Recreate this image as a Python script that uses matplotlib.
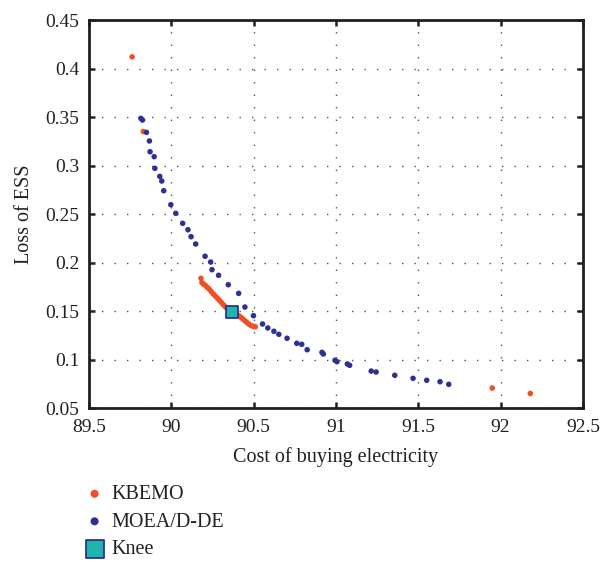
"""
Pareto fronts: KBEMO vs MOEA/D-DE, with the knee point
"""

import matplotlib
matplotlib.use('Agg')
import matplotlib.pyplot as plt

# KBEMO front (cost, loss)
kbemo_x = [89.762, 89.830, 90.180, 90.186, 90.194, 90.206, 90.218, 90.231,
           90.243, 90.255, 90.267, 90.279, 90.291, 90.303, 90.316, 90.328,
           90.340, 90.352, 90.364, 90.388, 90.400, 90.413, 90.425, 90.437,
           90.449, 90.461, 90.473, 90.485, 90.498, 90.510, 91.949, 92.180]
kbemo_y = [0.412, 0.335, 0.1837, 0.1792, 0.1778, 0.1765, 0.1744, 0.1724,
           0.1699, 0.1675, 0.1655, 0.1634, 0.1613, 0.1590, 0.1565, 0.1544,
           0.1524, 0.1507, 0.1493, 0.1472, 0.1462, 0.1448, 0.1431, 0.1414,
           0.1397, 0.1379, 0.1363, 0.1349, 0.1342, 0.1338, 0.0706, 0.0650]

# MOEA/D-DE front
moead_x = [89.815, 89.825, 89.849, 89.867, 89.871, 89.896, 89.900, 89.930,
           89.942, 89.954, 89.997, 90.027, 90.069, 90.101, 90.120, 90.148,
           90.205, 90.239, 90.247, 90.287, 90.346, 90.409, 90.447, 90.499,
           90.554, 90.586, 90.623, 90.653, 90.703, 90.762, 90.792, 90.825,
           90.915, 90.923, 90.994, 91.006, 91.069, 91.083, 91.214, 91.244,
           91.357, 91.468, 91.551, 91.632, 91.685]
moead_y = [0.3486, 0.3469, 0.3342, 0.3253, 0.3142, 0.3091, 0.2971, 0.2888,
           0.2840, 0.2740, 0.2596, 0.2507, 0.2404, 0.2338, 0.2266, 0.2191,
           0.2064, 0.2005, 0.1926, 0.1868, 0.1771, 0.1682, 0.1541, 0.1452,
           0.1366, 0.1325, 0.1291, 0.1260, 0.1219, 0.1167, 0.1157, 0.1101,
           0.1074, 0.1057, 0.0992, 0.0978, 0.0954, 0.0940, 0.0881, 0.0871,
           0.0837, 0.0806, 0.0786, 0.0771, 0.0744]

knee_x = [90.370]
knee_y = [0.1487]

xticks = [89.5, 90, 90.5, 91, 91.5, 92, 92.5]
yticks = [0.05, 0.1, 0.15, 0.2, 0.25, 0.3, 0.35, 0.4, 0.45]

plt.rcParams['font.family'] = ['Liberation Serif', 'DejaVu Serif']
txt = '#231f20'

fig = plt.figure(figsize=(6.02, 5.62), dpi=100)
ax = fig.add_axes([0.1478, 0.274, 0.8206, 0.6904])

ax.scatter(kbemo_x, kbemo_y, s=16, color='#f04e23', edgecolors='none',
           label='KBEMO', zorder=3)
ax.scatter(moead_x, moead_y, s=16, color='#2e3192', edgecolors='none',
           label='MOEA/D-DE', zorder=3)
ax.scatter(knee_x, knee_y, s=75, marker='s', color='#1fb5ad',
           edgecolors='#2e3192', linewidths=1.3, label='Knee', zorder=4)

ax.set_xlim(89.5, 92.5)
ax.set_ylim(0.05, 0.45)
ax.set_xticks(xticks)
ax.set_xticklabels(['89.5', '90', '90.5', '91', '91.5', '92', '92.5'])
ax.set_yticks(yticks)
ax.set_yticklabels(['0.05', '0.1', '0.15', '0.2', '0.25', '0.3', '0.35',
                    '0.4', '0.45'])
ax.tick_params(direction='in', length=4, width=1.8, labelsize=14,
               top=True, right=True, colors=txt)
ax.tick_params(axis='x', pad=8)
ax.tick_params(axis='y', pad=7)
ax.grid(True, color='#555555', linestyle=(0, (1, 8)), linewidth=1)
for sp in ax.spines.values():
    sp.set_linewidth(2)
    sp.set_color(txt)

ax.set_xlabel('Cost of buying electricity', fontsize=14.5, color=txt,
              labelpad=8)
ax.set_ylabel('Loss of ESS', fontsize=14.5, color=txt, labelpad=8)

ax.legend(loc='upper left', bbox_to_anchor=(0.122, 0.155),
          bbox_transform=fig.transFigure, frameon=False, fontsize=14.5,
          handletextpad=0.3, labelspacing=0.42, borderpad=0,
          handlelength=1.1, markerscale=1.45, labelcolor=txt)

fig.savefig('out.png', dpi=100)
